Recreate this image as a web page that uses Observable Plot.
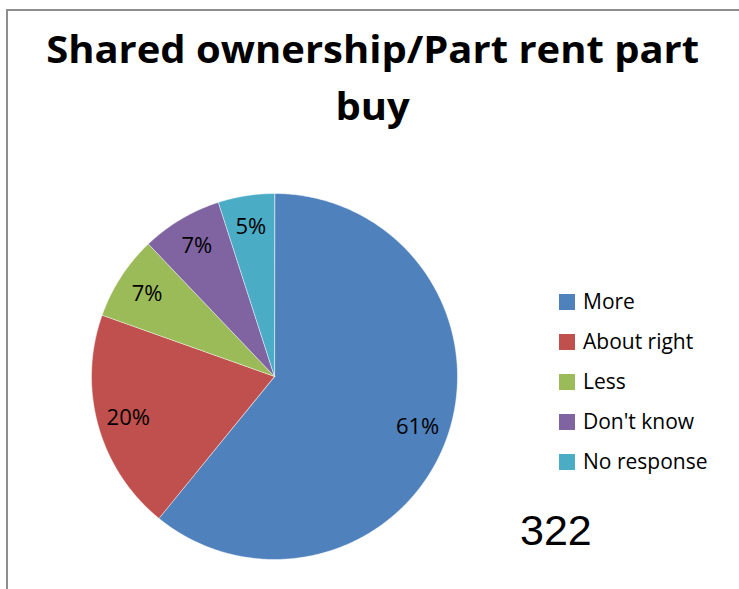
<!DOCTYPE html>
<html><head><meta charset="utf-8">
<script src="https://cdn.jsdelivr.net/npm/d3@7"></script>
<script src="https://cdn.jsdelivr.net/npm/@observablehq/plot@0.6"></script>
<style>
body{margin:0;background:#fff;}
#wrap{position:relative;width:739px;height:589px;overflow:hidden;font-family:"Open Sans",sans-serif;color:#000;}
#frame{position:absolute;left:6px;top:9px;width:740px;height:600px;border-top:2px solid #8e8e8e;border-left:2px solid #8e8e8e;box-sizing:border-box;}
#title{position:absolute;left:7px;width:732px;top:20px;text-align:center;font-weight:bold;font-size:38px;line-height:57px;transform-origin:373px 0;}
#title span{white-space:nowrap;}
#legend{position:absolute;left:559px;top:294px;}
.row{position:relative;height:40px;}
.sw{position:absolute;left:0;top:0;width:16px;height:16px;}
.lt{position:absolute;left:24px;top:-7px;font-size:21px;line-height:28px;white-space:nowrap;}
#total{position:absolute;left:520px;top:505px;font-family:"Liberation Sans",Arial,sans-serif;font-size:43px;line-height:50px;}
#chart{position:absolute;left:0;top:0;}
</style></head><body><div id="wrap"><div id="chart"></div><div id="frame"></div><div id="title"><span id="t1"></span><br><span id="t2"></span></div><div id="legend"></div><div id="total"></div></div>
<script>
const titleLines = ["Shared ownership/Part rent part", "buy"];
const categories = ["More", "About right", "Less", "Don't know", "No response"];
const counts = [196, 63, 24, 23, 16];
const percentLabels = ["61%", "20%", "7%", "7%", "5%"];
const colors = ["#4F81BD", "#C0504D", "#9BBB59", "#8064A2", "#4BACC6"];
const totalLabel = "322";

const data = categories.map((c, i) => ({cat: c, count: counts[i], label: percentLabels[i]}));
const arcs = d3.pie().sort(null).value(d => d.count)(data);

const pts = [];
arcs.forEach(a => {
  pts.push({cat: a.data.cat, x: 0, y: 0});
  const n = Math.max(2, Math.ceil((a.endAngle - a.startAngle) / 0.01));
  for (let k = 0; k <= n; k++) {
    const t = a.startAngle + (a.endAngle - a.startAngle) * k / n;
    pts.push({cat: a.data.cat, x: Math.sin(t), y: Math.cos(t)});
  }
});
const labelPts = arcs.map(a => {
  const m = (a.startAngle + a.endAngle) / 2;
  return {text: a.data.label, x: 0.83 * Math.sin(m), y: 0.83 * Math.cos(m)};
});

const plot = Plot.plot({
  width: 739, height: 589, margin: 0,
  x: {domain: [-1, 1], range: [91, 457], axis: null},
  y: {domain: [-1, 1], range: [559, 193], axis: null},
  color: {domain: categories, range: colors},
  marks: [
    Plot.line(pts, {x: "x", y: "y", z: "cat", fill: "cat", stroke: "#ffffff", strokeWidth: 0.7, strokeOpacity: 0.7, curve: "linear-closed"}),
    Plot.text(labelPts, {x: "x", y: "y", text: "text", fontSize: 22, fontFamily: "'Open Sans', sans-serif", fill: "#000"})
  ]
});
document.getElementById("chart").appendChild(plot);

document.getElementById("t1").textContent = titleLines[0];
document.getElementById("t2").textContent = titleLines[1];
const w1 = document.getElementById("t1").getBoundingClientRect().width;
const sx = 653 / w1;
document.getElementById("title").style.transform = `scaleX(${sx})`;

const legend = document.getElementById("legend");
categories.forEach((c, i) => {
  const row = document.createElement("div"); row.className = "row";
  const sw = document.createElement("div"); sw.className = "sw"; sw.style.background = colors[i];
  const lt = document.createElement("div"); lt.className = "lt"; lt.textContent = c;
  row.appendChild(sw); row.appendChild(lt); legend.appendChild(row);
});
document.getElementById("total").textContent = totalLabel;
</script></body></html>
